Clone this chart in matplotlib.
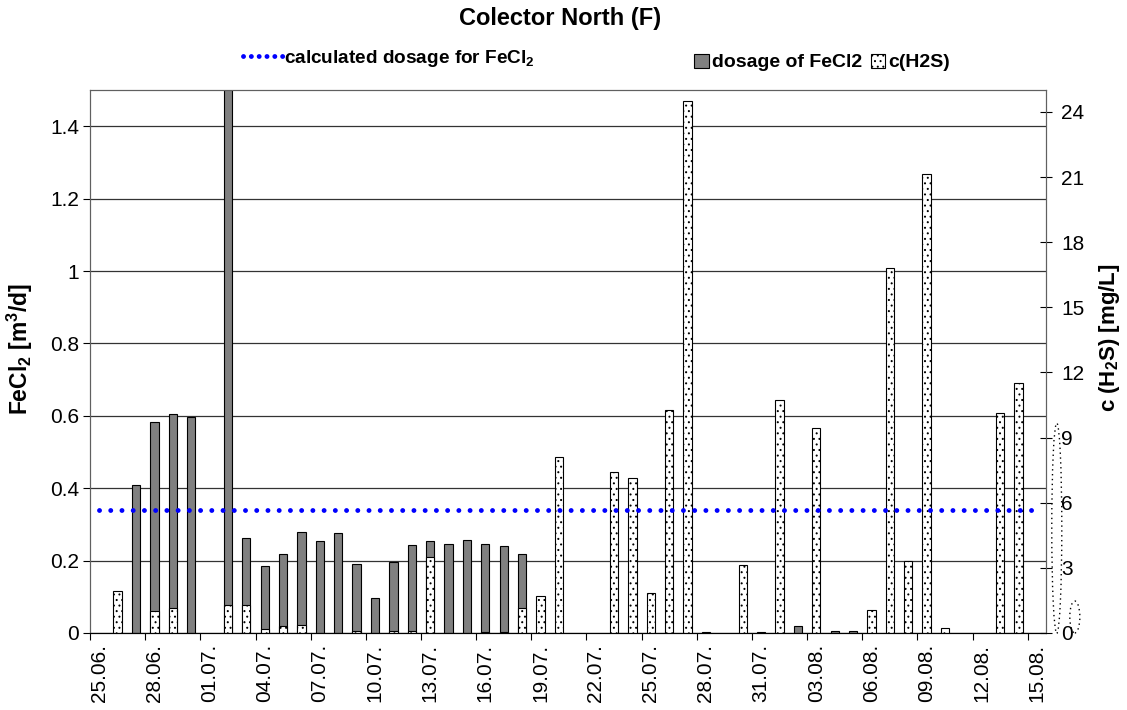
import matplotlib
matplotlib.use("Agg")
import matplotlib.pyplot as plt
import numpy as np
import pandas as pd
from matplotlib.lines import Line2D
from matplotlib.patches import Ellipse, Patch

nan = np.nan

# one category per day, 25.06 - 15.08
days = pd.date_range("2009-06-25", "2009-08-15", freq="D")
day_labels = [d.strftime("%d.%m.") for d in days]

# FeCl2 dosage [m3/d]
fecl2_dosage = [
    nan, nan, 0.409, 0.583, 0.606, 0.597, nan, 1.62, 0.262, 0.185,
    0.219, 0.278, 0.255, 0.276, 0.191, 0.098, 0.197, 0.242, 0.254, 0.246,
    0.257, 0.245, 0.239, 0.218, nan, nan, nan, nan, nan, nan,
    nan, nan, nan, 0.002, nan, nan, 0.004, nan, 0.020, nan,
    0.005, 0.005, nan, nan, nan, nan, nan, nan, nan, nan,
    nan, nan,
]

# H2S concentration [mg/L]
h2s_conc = [
    nan, 1.92, nan, 1.02, 1.15, nan, nan, 1.28, 1.27, 0.20,
    0.33, 0.38, nan, nan, 0.10, nan, 0.07, 0.08, 3.52, nan,
    nan, 0.05, 0.05, 1.15, 1.72, 8.10, nan, nan, 7.43, 7.13,
    1.82, 10.28, 24.48, nan, nan, 3.12, nan, 10.73, nan, 9.43,
    nan, nan, 1.04, 16.79, 3.33, 21.12, 0.25, nan, nan, 10.12,
    11.52, nan,
]

calc_dosage = 0.34  # calculated FeCl2 dosage [m3/d]

plt.rcParams["font.family"] = ["Liberation Sans", "DejaVu Sans"]
plt.rcParams["mathtext.fontset"] = "custom"
plt.rcParams["mathtext.rm"] = "Liberation Sans:bold"
plt.rcParams["mathtext.bf"] = "Liberation Sans:bold"
plt.rcParams["mathtext.default"] = "bf"
plt.rcParams["hatch.color"] = "black"
plt.rcParams["hatch.linewidth"] = 0.7

x = np.arange(len(days))
bar_w = 0.45

fig = plt.figure(figsize=(11.27, 7.10), dpi=100)
ax = fig.add_axes([0.0799, 0.1085, 0.8483, 0.7645])
ax2 = ax.twinx()

ax.bar(x, fecl2_dosage, width=bar_w, color="#808080", edgecolor="black", linewidth=0.8)
ax2.bar(x, h2s_conc, width=bar_w, color="white", edgecolor="black", linewidth=0.8, hatch="...")
ax2.plot(x, [calc_dosage] * len(x), transform=ax.transData, color="#0000ff",
         linewidth=3.5, linestyle=(0, (0.01, 2.3)), dash_capstyle="round", clip_on=False)

ax.set_xlim(-0.5, len(x) - 0.5)
ax.set_ylim(0, 1.5)
ax2.set_ylim(0, 25)

ax.set_yticks(np.arange(0, 1.41, 0.2))
ax.set_yticklabels(["0", "0.2", "0.4", "0.6", "0.8", "1", "1.2", "1.4"])
ax2.set_yticks(np.arange(0, 25, 3))

ax.set_xticks(np.arange(-0.5, len(x), 3))
ax.set_xticklabels([])
ax.set_xticks(x[::3], minor=True)
ax.set_xticklabels(day_labels[::3], minor=True, rotation=90, fontsize=15)
ax.tick_params(axis="x", which="major", direction="out", length=5, width=0.8)
ax.tick_params(axis="x", which="minor", length=0, pad=8)
ax.tick_params(axis="y", direction="out", length=5, width=0.8, labelsize=15, pad=3)
ax2.tick_params(axis="y", direction="inout", length=8.6, width=0.8, labelsize=15, pad=6.5)

ax.yaxis.grid(True, color="#333333", linewidth=0.9)
ax.set_axisbelow(True)

for a in (ax, ax2):
    for side in ("left", "top", "right"):
        a.spines[side].set_color("#606060")
    a.spines["bottom"].set_color("black")

fig.text(20 / 1127, 1 - 349 / 710, r"FeCl$_2$ [m$^3$/d]", rotation=90, ha="center",
         va="center", fontsize=16.5, fontweight="bold")
fig.text(1110 / 1127, 1 - 338 / 710, r"c (H$_2$S) [mg/L]", rotation=90, ha="center",
         va="center", fontsize=16, fontweight="bold")

fig.text(0.497, 0.974, "Colector North (F)", ha="center", va="center",
         fontsize=17, fontweight="bold")

line_handle = Line2D([], [], color="#0000ff", linewidth=3.5,
                     linestyle=(0, (0.01, 1.6)), dash_capstyle="round")
fig.legend([line_handle], [r"calculated dosage for FeCl$_2$"], loc="center left",
           bbox_to_anchor=(0.207, 0.918), frameon=False, handlelength=2.1,
           handletextpad=0.05, borderpad=0, prop={"weight": "bold", "size": 13.7})

bar_handles = [Patch(facecolor="#808080", edgecolor="black", linewidth=0.8),
               Patch(facecolor="white", edgecolor="black", linewidth=0.8, hatch="...")]
fig.legend(bar_handles, ["dosage of FeCl2", "c(H2S)"], loc="center left",
           bbox_to_anchor=(0.6075, 0.912), frameon=False, ncol=2,
           handlelength=0.75, handleheight=0.75, handletextpad=0.15,
           columnspacing=0.45, borderpad=0, prop={"weight": "bold", "size": 14})

# stray dotted outlines beside the right axis
for cx, cy, w, h in [(0.9377, 0.2561, 0.0089, 0.296), (0.9537, 0.1310, 0.0089, 0.0450)]:
    fig.patches.append(Ellipse((cx, cy), w, h, transform=fig.transFigure, fill=False,
                               edgecolor="black", linewidth=1.0, linestyle=(0, (1, 2.5))))

fig.savefig("out.png", dpi=100)
